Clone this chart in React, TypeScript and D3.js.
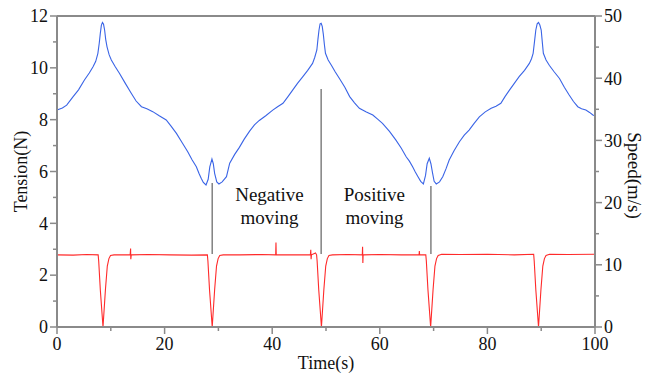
import React from "react";
import * as d3 from "d3";

// Tension (N), left axis — blue
const tensionT = [0,1.0,1.8,3.0,4.0,5.1,6.0,6.7,7.2,7.6,7.85,8.05,8.25,8.45,8.65,8.85,9.05,9.3,9.7,10.1,10.8,11.6,12.7,13.8,14.7,15.7,16.7,17.8,19.0,20.3,21.2,22.2,23.3,24.3,25.1,25.9,26.4,26.8,27.2,27.7,28.1,28.4,28.8,29.05,29.3,29.7,30.1,30.7,31.5,32.1,33.0,33.9,34.8,35.8,36.7,37.6,38.8,40.1,41.0,42.0,42.9,43.8,44.7,45.7,46.6,47.5,47.9,48.3,48.5,48.7,48.9,49.1,49.3,49.5,49.7,49.9,50.4,51.0,51.7,52.5,53.5,54.4,55.3,56.2,57.5,58.7,59.6,60.5,61.8,63.0,64.0,64.9,65.5,66.1,66.6,67.1,67.6,68.1,68.5,68.8,69.2,69.5,69.8,70.1,70.5,71.1,71.7,72.3,72.9,73.8,74.8,75.7,76.6,77.5,78.5,79.6,80.7,81.6,82.5,83.3,84.1,85.0,85.9,86.9,87.8,88.2,88.5,88.75,89.0,89.25,89.5,89.75,90.0,90.2,90.4,90.9,91.5,92.4,93.4,94.3,95.2,96.0,96.8,97.5,98.3,99.0,99.6,100];
const tensionV = [8.37,8.45,8.56,8.89,9.15,9.53,9.80,10.04,10.25,10.56,10.95,11.33,11.65,11.75,11.68,11.46,11.1,10.81,10.5,10.3,10.05,9.79,9.4,9.02,8.72,8.5,8.42,8.31,8.15,7.99,7.75,7.47,7.1,6.76,6.45,6.18,5.92,5.74,5.58,5.48,5.7,6.18,6.48,6.3,5.93,5.6,5.52,5.6,5.80,6.32,6.65,6.93,7.25,7.56,7.8,7.97,8.15,8.37,8.5,8.63,8.88,9.14,9.4,9.66,9.9,10.17,10.4,10.69,11.1,11.46,11.7,11.72,11.6,11.3,10.9,10.56,10.3,10.1,9.85,9.59,9.25,8.89,8.65,8.44,8.3,8.18,8.02,7.86,7.55,7.21,6.9,6.57,6.4,6.18,5.98,5.80,5.62,5.52,5.85,6.3,6.51,6.3,5.95,5.62,5.52,5.6,5.80,6.1,6.44,6.8,7.15,7.4,7.60,7.85,8.11,8.3,8.44,8.52,8.63,8.9,9.14,9.4,9.66,9.9,10.17,10.35,10.56,11.0,11.46,11.7,11.75,11.65,11.46,11.0,10.56,10.3,10.1,9.85,9.59,9.25,8.95,8.7,8.5,8.42,8.37,8.28,8.18,8.15];

// Speed (m/s), right axis — red
const speedT = [0,3.0,5.5,7.65,7.75,8.05,8.55,9.0,9.35,9.65,9.95,10.6,13.6,13.68,13.72,13.8,17.0,21.0,25.0,27.95,28.05,28.35,28.85,29.3,29.65,29.95,30.25,30.9,34.0,38.0,40.65,40.7,40.75,44.0,47.1,47.17,47.23,47.3,48.05,48.25,48.35,48.65,49.15,49.6,49.95,50.25,50.55,51.2,54.0,56.75,56.8,56.85,56.9,60.0,64.0,67.3,67.35,67.4,68.55,68.65,68.95,69.45,69.9,70.25,70.55,70.85,71.5,75.0,80.0,85.0,88.6,88.7,89.0,89.5,89.95,90.3,90.6,90.9,91.55,95.0,100];
const speedV = [11.6,11.55,11.65,11.6,10.6,6.0,0,6.0,9.8,11.0,11.5,11.6,11.6,12.6,10.9,11.6,11.65,11.6,11.55,11.6,10.6,6.0,0,6.0,9.8,11.0,11.5,11.6,11.6,11.65,11.6,13.6,11.6,11.6,11.6,12.4,10.9,11.6,11.9,11.6,10.6,6.0,0,6.0,9.8,11.0,11.5,11.6,11.65,11.6,12.9,10.3,11.6,11.65,11.6,11.6,12.2,11.6,11.6,10.6,6.0,0,6.0,9.8,11.0,11.5,11.7,11.65,11.7,11.6,11.7,10.6,6.0,0,6.0,9.8,11.0,11.5,11.7,11.65,11.7];

// Vertical markers (time, top tension, bottom tension)
const markerT = [28.85, 49.1, 69.5];
const markerTop = [5.56, 9.18, 5.44];
const markerBottom = [2.82, 2.82, 2.82];

const xTicks = [0, 20, 40, 60, 80, 100];
const leftTicks = [0, 2, 4, 6, 8, 10, 12];
const rightTicks = [0, 10, 20, 30, 40, 50];

const W = 662, H = 375;
const L = 57, R = 595, T = 16, B = 327;
const FONT = "'Liberation Serif', 'Times New Roman', serif";
const AX = "#8a8a8a";

export default function App() {
  const x = d3.scaleLinear().domain([0, 100]).range([L, R]);
  const yL = d3.scaleLinear().domain([0, 12]).range([B, T]);
  const yR = d3.scaleLinear().domain([0, 50]).range([B, T]);

  const blue = d3.line<number>().x((_, i) => x(tensionT[i])).y((v) => yL(v))(tensionV) || "";
  const red = d3.line<number>().x((_, i) => x(speedT[i])).y((v) => yR(v))(speedV) || "";

  const xMinor = d3.range(10, 100, 20);
  const lMinor = d3.range(1, 12, 2);
  const rMinor = d3.range(5, 50, 10);

  return (
    <svg width={W} height={H} style={{ position: "absolute", left: 0, top: 0, background: "#fff" }} fontFamily={FONT}>
      <path d={blue} fill="none" stroke="#3a64e6" strokeWidth={1.1} />
      <path d={red} fill="none" stroke="#ff2a2a" strokeWidth={1.1} />
      {markerT.map((t, i) => (
        <line key={i} x1={x(t)} x2={x(t)} y1={yL(markerTop[i])} y2={yL(markerBottom[i])} stroke="#808080" strokeWidth={1.5} />
      ))}
      {/* frame */}
      <line x1={L} x2={R} y1={T} y2={T} stroke={AX} strokeWidth={2} />
      <line x1={L} x2={R} y1={B} y2={B} stroke={AX} strokeWidth={2} />
      <line x1={L} x2={L} y1={T} y2={B} stroke={AX} strokeWidth={2} />
      <line x1={R} x2={R} y1={T} y2={B} stroke={AX} strokeWidth={2} />
      {/* x ticks */}
      {xTicks.map((t) => (
        <g key={"x" + t}>
          <line x1={x(t)} x2={x(t)} y1={B} y2={B + 7} stroke={AX} strokeWidth={1.5} />
          <text x={x(t)} y={350} textAnchor="middle" fontSize={18} fill="#111">{t}</text>
        </g>
      ))}
      {xMinor.map((t) => (
        <line key={"xm" + t} x1={x(t)} x2={x(t)} y1={B} y2={B + 4} stroke={AX} strokeWidth={1.5} />
      ))}
      {/* left ticks */}
      {leftTicks.map((t) => (
        <g key={"l" + t}>
          <line x1={L - 7} x2={L} y1={yL(t)} y2={yL(t)} stroke={AX} strokeWidth={1.5} />
          <text x={L - 9} y={yL(t)} dy="0.35em" textAnchor="end" fontSize={18} fill="#111">{t}</text>
        </g>
      ))}
      {lMinor.map((t) => (
        <line key={"lm" + t} x1={L - 4} x2={L} y1={yL(t)} y2={yL(t)} stroke={AX} strokeWidth={1.5} />
      ))}
      {/* right ticks */}
      {rightTicks.map((t) => (
        <g key={"r" + t}>
          <line x1={R} x2={R + 7} y1={yR(t)} y2={yR(t)} stroke={AX} strokeWidth={1.5} />
          <text x={R + 9} y={yR(t)} dy="0.35em" textAnchor="start" fontSize={18} fill="#111">{t}</text>
        </g>
      ))}
      {rMinor.map((t) => (
        <line key={"rm" + t} x1={R} x2={R + 4} y1={yR(t)} y2={yR(t)} stroke={AX} strokeWidth={1.5} />
      ))}
      {/* axis titles */}
      <text transform={`translate(27,${(T + B) / 2}) rotate(-90)`} textAnchor="middle" fontSize={18} fill="#111">Tension(N)</text>
      <text transform={`translate(628,${(T + B) / 2 + 4}) rotate(90)`} textAnchor="middle" fontSize={19} fill="#111">Speed(m/s)</text>
      <text x={326} y={369} textAnchor="middle" fontSize={18} fill="#111">Time(s)</text>
      {/* annotations */}
      <text x={x(39.5)} y={201} textAnchor="middle" fontSize={19} fill="#111">Negative</text>
      <text x={x(39.5)} y={224} textAnchor="middle" fontSize={19} fill="#111">moving</text>
      <text x={x(59)} y={201} textAnchor="middle" fontSize={19} fill="#111">Positive</text>
      <text x={x(59)} y={224} textAnchor="middle" fontSize={19} fill="#111">moving</text>
    </svg>
  );
}
